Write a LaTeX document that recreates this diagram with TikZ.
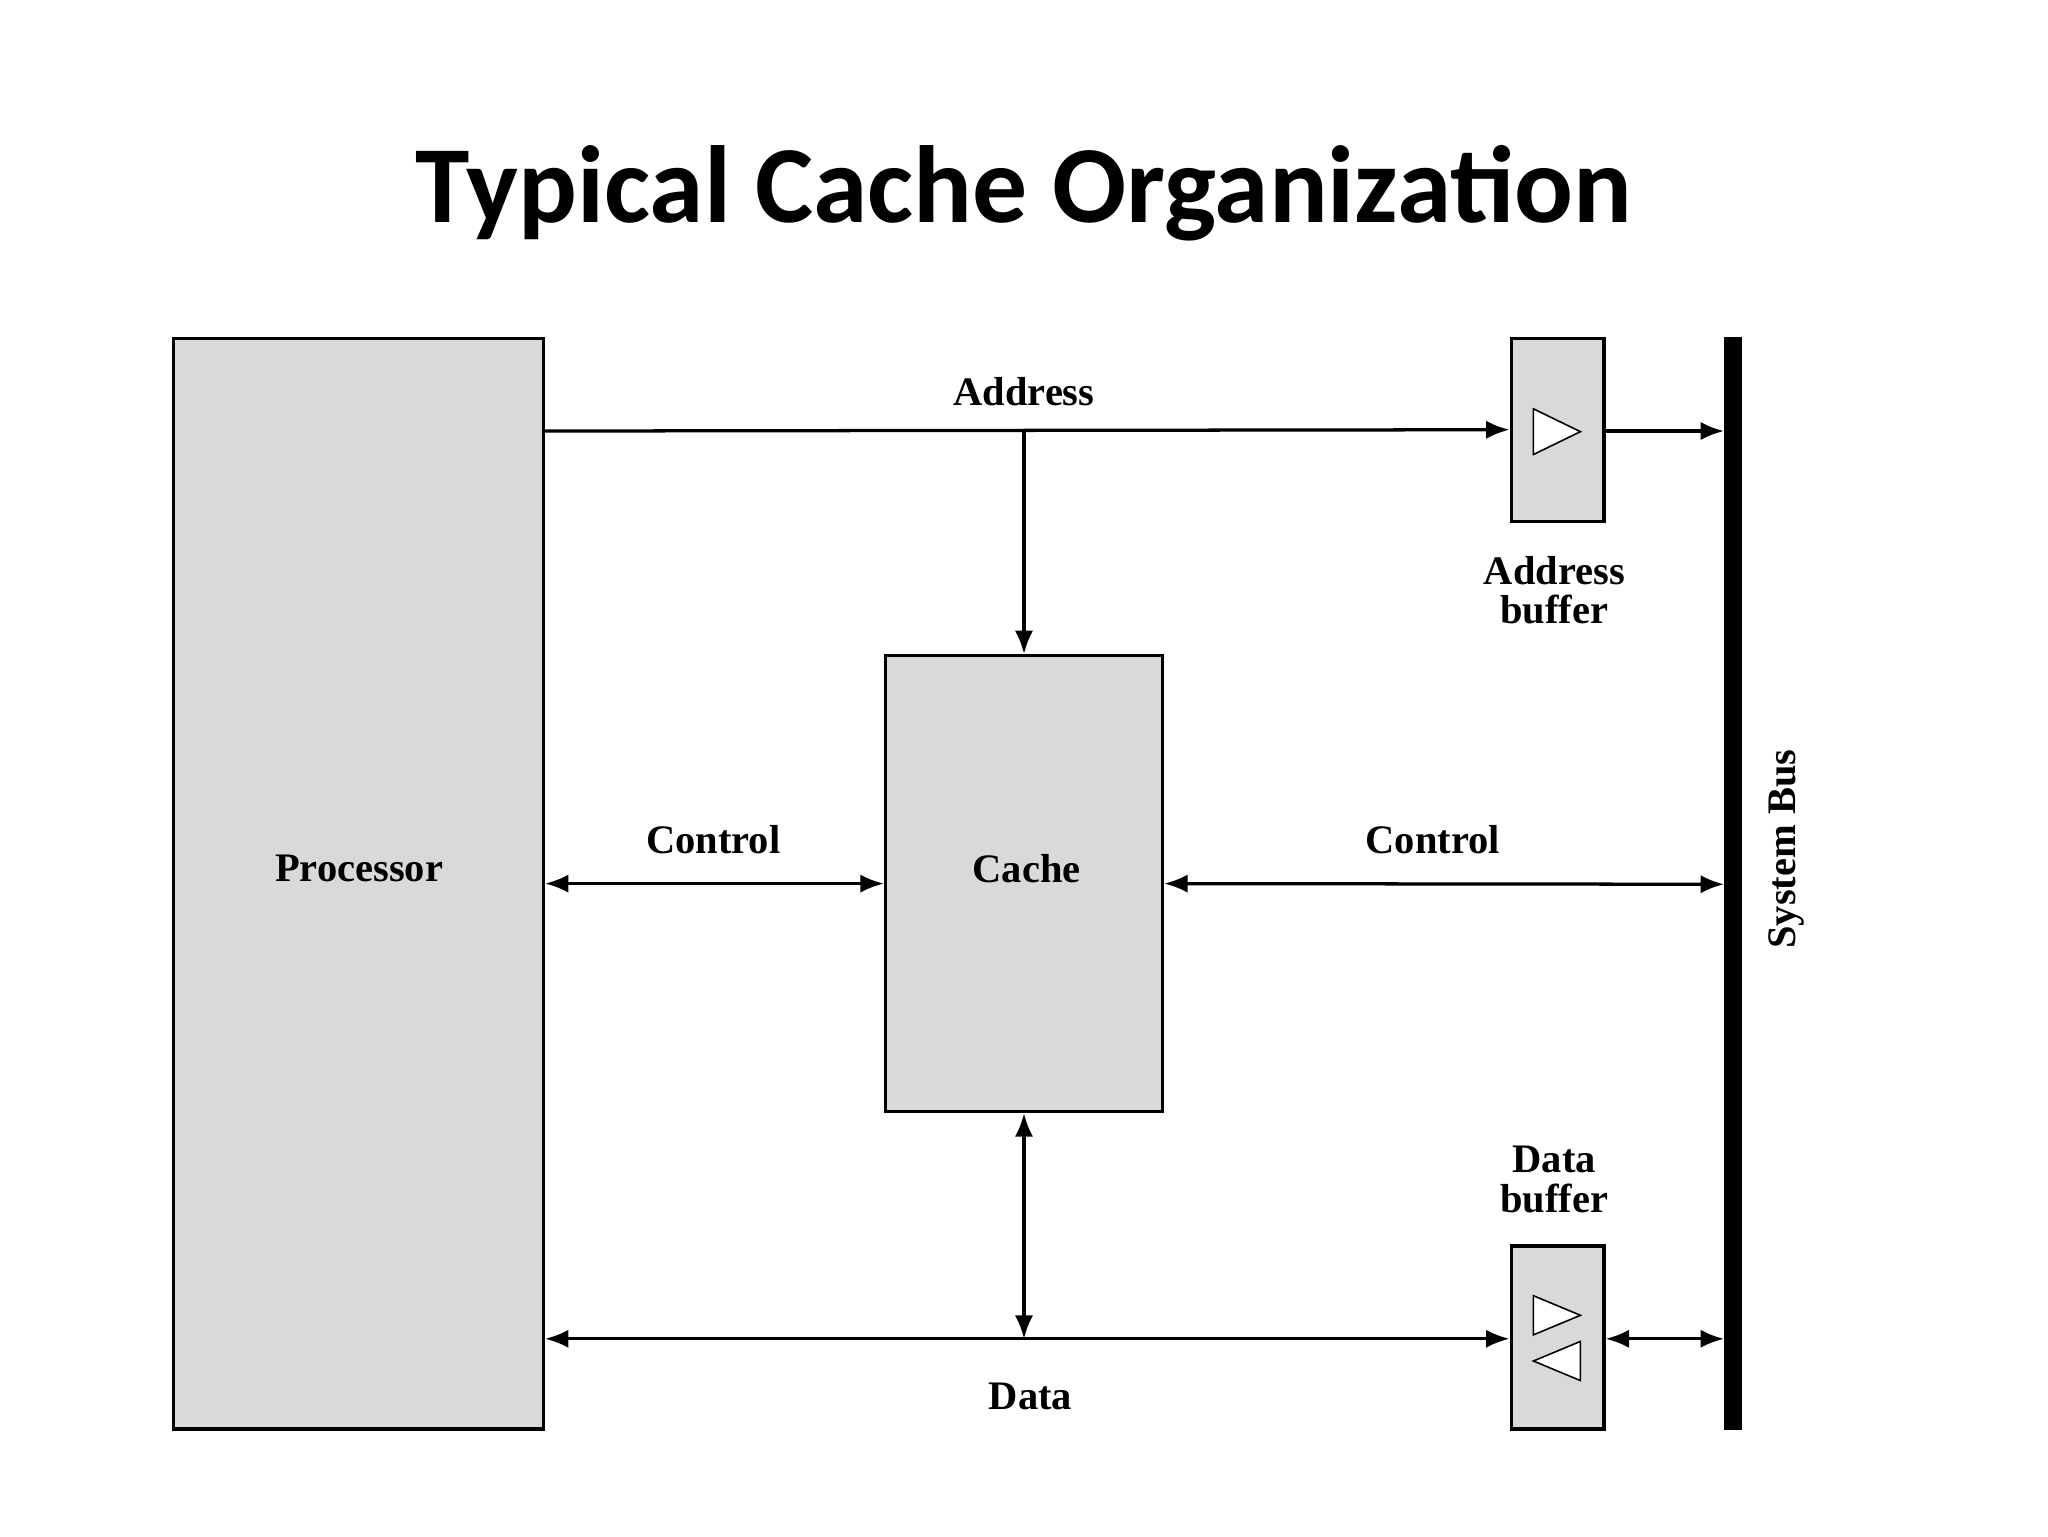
\documentclass[tikz,border=0pt]{standalone}
\usepackage{fontspec}
\setmainfont{Liberation Serif}
\newfontfamily\titlefont{Carlito}
\usetikzlibrary{arrows.meta}
\begin{document}
\begin{tikzpicture}[x=1pt,y=-1pt,
  box/.style={draw,line width=2.5pt,fill=gray!30,inner sep=0pt},
  lbl/.style={font=\fontsize{31}{36}\selectfont\bfseries,align=center},
  conn/.style={line width=2.5pt,-{Latex[length=18pt,width=14pt]}},
  bi/.style={line width=2.5pt,{Latex[length=18pt,width=14pt]}-{Latex[length=18pt,width=14pt]}},
  tri/.style={line width=1.2pt,fill=white}]
\useasboundingbox (0,0) rectangle (1568,1176);
\node[font=\titlefont\fontsize{84}{96}\selectfont\bfseries] (title) at (784,148) {Typical Cache Organization};
\node[box,minimum width=283pt,minimum height=835pt] (proc) at (274.5,676.5) {};
\node[lbl] at (275,665) {Processor};
\node[box,minimum width=212pt,minimum height=349pt] (cache) at (784,676.5) {};
\node[lbl] at (786,665) {Cache};
\node[box,minimum width=71pt,minimum height=140pt] (ab) at (1192.5,329) {};
\node[box,minimum width=71pt,minimum height=140pt] (db) at (1192.5,1024) {};
\draw[tri] (1174,313) -- (1210,330.5) -- (1174,348) -- cycle;
\draw[tri] (1174,992) -- (1210,1007) -- (1174,1022) -- cycle;
\draw[tri] (1210,1027) -- (1174,1042) -- (1210,1057) -- cycle;
\node[lbl,align=center] (abl) at (1190,452) {Address\\[-6pt]buffer};
\node[lbl,align=center] (dbl) at (1190,903) {Data\\[-6pt]buffer};
\coordinate (bt) at (1327,258);
\coordinate (bb) at (1327,1095);
\draw[line width=14pt] (bt) -- (bb);
\node[lbl,rotate=90] (sb) at (1368,650) {System Bus};
% address
\coordinate (pa) at (416,330);
\coordinate (aj) at (784,330);
\coordinate (ba) at (1320,330);
\draw[conn] (pa) -- (ab.west);
\draw[conn] (ab.east |- pa) -- (ba);
\draw[conn] (aj) -- (cache.north);
\node[lbl] at (784,300) {Address};
% control
\draw[bi] (proc.east |- cache.west) -- (cache.west);
\node[lbl] at (546,643) {Control};
\coordinate (bc) at (1320,677);
\draw[bi] (cache.east) -- (bc);
\node[lbl] at (1097,643) {Control};
% data
\coordinate (dj) at (784,1025);
\draw[bi] (proc.east |- dj) -- (db.west |- dj);
\draw[bi] (cache.south) -- (dj);
\coordinate (bd) at (1320,1025);
\draw[bi] (db.east |- dj) -- (bd);
\node[lbl] at (789,1069) {Data};
\end{tikzpicture}
\end{document}
